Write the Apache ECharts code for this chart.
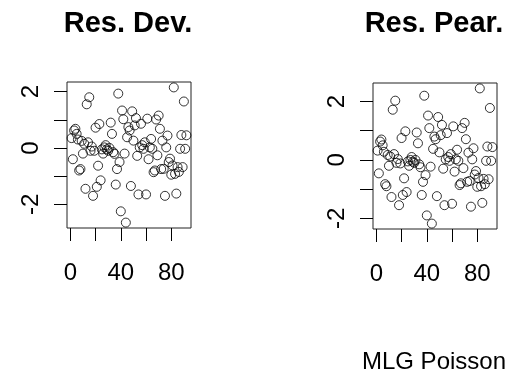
<!DOCTYPE html>
<html>
<head>
<meta charset="utf-8">
<script src="https://cdn.jsdelivr.net/npm/echarts@6/dist/echarts.min.js"></script>
<style>
  html, body { margin: 0; padding: 0; background: #fff; }
  #chart-container { width: 509px; height: 372px; }
</style>
</head>
<body>
<div id="chart-container"></div>
<script>
const resDev = [
  0.35, -0.40, 0.62, 0.68, 0.50, 0.30, -0.80, -0.75, 0.25, -0.20,
  0.15, -1.45, 1.55, 0.20, 1.80, -0.10, 0.05, -1.70, -0.10, 0.72,
  -1.38, -0.63, 0.85, -1.15, -0.05, -0.20, 0.02, 0.10, -0.05, -0.10,
  0.00, 0.90, 0.50, -0.15, -0.21, -1.30, -0.75, 1.93, -0.50, -2.25,
  1.33, 1.02, -0.20, -2.65, 0.38, 0.74, 0.62, -1.35, 1.30, 0.26,
  0.80, 1.06, -0.28, -1.65, 0.02, 0.86, 0.10, -0.03, 0.20, -1.65,
  1.04, -0.40, 0.02, 0.32, -0.03, -0.86, -0.80, 1.01, -0.26, 1.15,
  0.68, -0.75, 0.26, -0.74, -1.70, 0.02, 0.44, -0.50, -0.38, -0.95,
  -0.62, 2.15, -0.92, -1.62, -0.68, -0.85, -0.03, 0.46, -0.68, 1.65,
  -0.03, 0.45
];
const resPear = [
  0.32, -0.46, 0.63, 0.70, 0.50, 0.28, -0.83, -0.90, 0.17, -0.20,
  0.12, -1.27, 1.72, 0.20, 2.03, -0.10, 0.03, -1.55, -0.12, 0.75,
  -1.20, -0.63, 0.98, -1.10, -0.05, -0.20, 0.00, 0.10, -0.06, -0.10,
  0.00, 0.94, 0.57, -0.15, -0.25, -1.20, -0.75, 2.20, -0.52, -1.90,
  1.52, 1.09, -0.23, -2.18, 0.38, 0.80, 0.71, -1.24, 1.47, 0.26,
  0.85, 1.20, -0.30, -1.55, 0.02, 0.92, 0.10, -0.03, 0.20, -1.50,
  1.15, -0.40, 0.02, 0.35, -0.03, -0.86, -0.80, 1.09, -0.28, 1.27,
  0.71, -0.75, 0.25, -0.72, -1.60, 0.02, 0.40, -0.50, -0.38, -0.92,
  -0.62, 2.45, -0.90, -1.47, -0.65, -0.83, -0.03, 0.46, -0.66, 1.78,
  -0.03, 0.44
];
const titles = ["Res. Dev.", "Res. Pear."];
const xTicks = [0, 20, 40, 60, 80];
const xLabels = [0, 40, 80];
const yTicks = [-2, -1, 0, 1, 2];
const yLabels = [-2, 0, 2];
const caption = "MLG Poisson";

(() => {
  var dom = document.getElementById("chart-container");
  var chart = echarts.init(dom, null, { renderer: "canvas" });

  const font = "'Liberation Sans', Arial, sans-serif";
  const grids = [
    { left: 67, top: 82, width: 124, height: 146 },
    { left: 373, top: 83, width: 124, height: 146 },
  ];

  // R style axis limits: data range padded by 4%
  const pad = (lo, hi) => {
    const d = (hi - lo) * 0.04;
    return [lo - d, hi + d];
  };
  const n = resDev.length;
  const xr = pad(1, n);

  const makeX = (i) => ({
    gridIndex: i,
    type: "value",
    min: xr[0],
    max: xr[1],
    splitLine: { show: false },
    axisLine: { show: false, onZero: false },
    axisTick: { show: true, length: 13, customValues: xTicks, lineStyle: { color: "#000" } },
    axisLabel: { customValues: xLabels, margin: 33, fontSize: 24, color: "#000", fontFamily: font },
  });
  const makeY = (i, vals) => {
    const r = pad(Math.min(...vals), Math.max(...vals));
    return {
      gridIndex: i,
      type: "value",
      min: r[0],
      max: r[1],
      splitLine: { show: false },
      axisLine: { show: false, onZero: false },
      axisTick: { show: true, length: 13, customValues: yTicks, lineStyle: { color: "#000" } },
      axisLabel: { customValues: yLabels, rotate: 90, margin: 24, fontSize: 24, color: "#000", fontFamily: font },
    };
  };

  const points = (vals) => vals.map((v, i) => [i + 1, v]);
  const scatter = (i, vals) => ({
    type: "scatter",
    xAxisIndex: i,
    yAxisIndex: i,
    data: points(vals),
    symbol: "circle",
    symbolSize: 9,
    itemStyle: { color: "transparent", borderColor: "#000", borderWidth: 1 },
    silent: true,
    animation: false,
  });

  const option = {
    animation: false,
    grid: grids.map((g) => Object.assign({ show: true, borderColor: "#222", borderWidth: 1 }, g)),
    xAxis: [makeX(0), makeX(1)],
    yAxis: [makeY(0, resDev), makeY(1, resPear)],
    series: [scatter(0, resDev), scatter(1, resPear)],
    graphic: [
      {
        type: "text", x: 128, y: 24,
        style: { text: titles[0], align: "center", verticalAlign: "middle", fontSize: 29, fontWeight: "bold", fontFamily: font, fill: "#000" },
      },
      {
        type: "text", x: 434, y: 24,
        style: { text: titles[1], align: "center", verticalAlign: "middle", fontSize: 29, fontWeight: "bold", fontFamily: font, fill: "#000" },
      },
      {
        type: "text", x: 506, y: 362,
        style: { text: caption, align: "right", verticalAlign: "middle", fontSize: 24, fontFamily: font, fill: "#000" },
      },
    ],
  };

  chart.setOption(option);
  window.addEventListener("resize", chart.resize);
})();
</script>
</body>
</html>
